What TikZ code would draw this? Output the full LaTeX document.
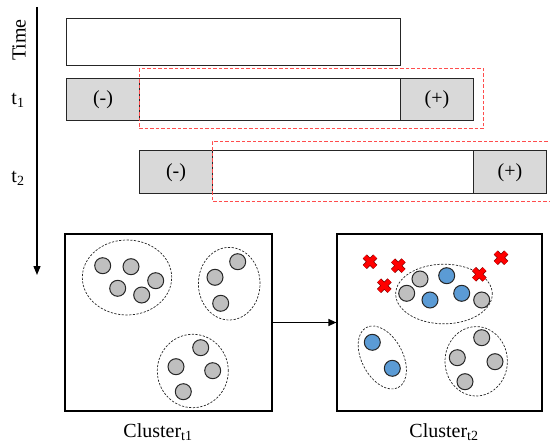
\documentclass[tikz,border=0pt]{standalone}
\usepackage{fontspec}
\setmainfont{Liberation Serif}
\usetikzlibrary{arrows.meta}
\definecolor{barfill}{HTML}{D9D9D9}
\definecolor{dotgray}{HTML}{BFBFBF}
\definecolor{dotblue}{HTML}{5B9BD5}
\definecolor{dashred}{HTML}{FF4D4D}
\definecolor{xred}{HTML}{FF0000}
\definecolor{xedge}{HTML}{7A0000}
\tikzset{
  lbl/.style={font=\fontsize{20}{23}\selectfont, inner sep=0pt},
  seg/.style={draw=black!85, line width=1pt, inner sep=0pt, minimum height=42.5pt, anchor=north west},
  endseg/.style={seg, fill=barfill, font=\fontsize{20}{23}\selectfont},
  window/.style={draw=dashred, line width=1pt, dash pattern=on 3.5pt off 2pt},
  panel/.style={draw=black, line width=1.2pt, inner sep=0pt},
  group/.style={draw=black!85, line width=0.7pt, dash pattern=on 2.2pt off 1.5pt},
  dot/.style={circle, draw=black!85, line width=1pt, minimum size=16pt, inner sep=0pt},
  gdot/.style={dot, fill=dotgray},
  bdot/.style={dot, fill=dotblue},
  pics/redx/.style={code={
    \draw[line width=5.8pt, xedge] (-5.2pt,-5.2pt) -- (5.2pt,5.2pt) (-5.2pt,5.2pt) -- (5.2pt,-5.2pt);
    \draw[line width=4.4pt, xred] (-5.2pt,-5.2pt) -- (5.2pt,5.2pt) (-5.2pt,5.2pt) -- (5.2pt,-5.2pt);
  }},
}
\begin{document}
\begin{tikzpicture}[x=1pt,y=-1pt]
\useasboundingbox (0,0) rectangle (550,444);

% time axis
\coordinate (ttop) at (37,7);
\coordinate (tbot) at (37,275);
\draw[line width=1.4pt, -{Triangle[length=9pt,width=7pt]}] (ttop) -- (tbot);
\node[lbl, rotate=90] (time) at (19,40) {Time};
\node[lbl] (lt1) at (18,100) {t\textsubscript{1}};
\node[lbl] (lt2) at (18,178) {t\textsubscript{2}};

% full series
\node[seg, minimum width=334pt, minimum height=47pt] (full) at (66,18) {};

% step t1
\node[endseg, minimum width=73pt] (n1) at (66,78) {(-)};
\node[seg, minimum width=261pt] (m1) at (139,78) {};
\node[endseg, minimum width=73pt] (p1) at (400,78) {(+)};
\draw[window] (139,68.5) rectangle (483,129);

% step t2
\node[endseg, minimum width=73pt] (n2) at (139,150.5) {(-)};
\node[seg, minimum width=261pt] (m2) at (212,150.5) {};
\node[endseg, minimum width=73pt] (p2) at (473,150.5) {(+)};
\draw[window] (553,142) -- (212,142) -- (212,201.5) -- (553,201.5);

% clusters at t1
\node[panel, minimum width=207pt, minimum height=177pt] (c1) at (168.5,322.5) {};
\draw[group] (127,277.5) ellipse [x radius=44.7pt, y radius=37.5pt];
\node[gdot] (a1) at (102.7,265.7) {};
\node[gdot] (a2) at (131,266.7) {};
\node[gdot] (a3) at (155.7,280.7) {};
\node[gdot] (a4) at (117.7,288.3) {};
\node[gdot] (a5) at (141.7,295) {};
\draw[group] (229.2,283.7) ellipse [x radius=30.8pt, y radius=36.3pt];
\node[gdot] (b1) at (237.7,261.7) {};
\node[gdot] (b2) at (215,277.3) {};
\node[gdot] (b3) at (220.7,303.3) {};
\draw[group] (192.8,371) ellipse [x radius=35.5pt, y radius=36.7pt];
\node[gdot] (d1) at (200.7,347.7) {};
\node[gdot] (d2) at (176,366.7) {};
\node[gdot] (d3) at (212.7,370.7) {};
\node[gdot] (d4) at (183.3,391.7) {};
\node[lbl, anchor=base] (l1) at (158,437) {Cluster\textsubscript{t1}};

% clusters at t2
\node[panel, minimum width=205pt, minimum height=177pt] (c2) at (439.5,322.5) {};
\draw[group] (444,294) ellipse [x radius=48.3pt, y radius=29.8pt];
\node[gdot] (e1) at (420,279) {};
\node[gdot] (e2) at (406.7,293.3) {};
\node[bdot] (e3) at (446.7,275.7) {};
\node[bdot] (e4) at (430,300) {};
\node[bdot] (e5) at (461.7,293.3) {};
\node[gdot] (e6) at (481.7,300) {};
\draw[group, rotate around={-62:(382.3,357.5)}] (382.3,357.5) ellipse [x radius=34pt, y radius=20.5pt];
\node[bdot] (f1) at (372.3,342.3) {};
\node[bdot] (f2) at (392.3,368.3) {};
\draw[group] (476.2,361.3) ellipse [x radius=31.2pt, y radius=34.7pt];
\node[gdot] (g1) at (481.7,337.7) {};
\node[gdot] (g2) at (457.3,357.7) {};
\node[gdot] (g3) at (495,361.7) {};
\node[gdot] (g4) at (465,381.7) {};
\pic at (370,261.7) {redx};
\pic at (398.3,265.7) {redx};
\pic at (384.3,285.7) {redx};
\pic at (479.3,274.3) {redx};
\pic at (501,257.7) {redx};
\node[lbl, anchor=base] (l2) at (444,437) {Cluster\textsubscript{t2}};

% transition between snapshots
\draw[line width=1.2pt, -{Triangle[length=8pt,width=7pt]}] (c1.east) -- (c2.west);
\end{tikzpicture}
\end{document}
